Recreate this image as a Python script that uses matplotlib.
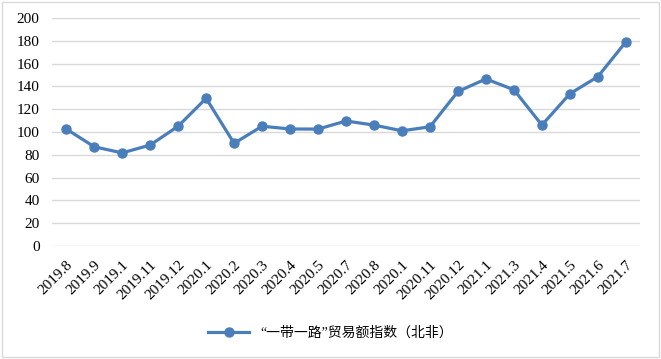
import matplotlib.pyplot as plt
from matplotlib.patches import Rectangle

months = ['2019.8', '2019.9', '2019.1', '2019.11', '2019.12', '2020.1', '2020.2',
          '2020.3', '2020.4', '2020.5', '2020.7', '2020.8', '2020.1', '2020.11',
          '2020.12', '2021.1', '2021.3', '2021.4', '2021.5', '2021.6', '2021.7']
index_values = [102.6, 87, 81.6, 88.5, 105, 129.5, 90, 105, 102.6, 102.5, 109.6,
                106, 101, 104.5, 135.5, 146.5, 137, 106, 133.5, 148.5, 179]
series_name = '“一带一路”贸易额指数（北非）'

plt.rcParams['font.family'] = ['Liberation Serif', 'Noto Sans CJK SC', 'DejaVu Sans']

fig = plt.figure(figsize=(6.61, 3.59), dpi=100)
ax = fig.add_axes([0.079, 0.315, 0.889, 0.635])

x = list(range(len(months)))
ax.plot(x, index_values, '-o', color='#4a7ebb', linewidth=2.3, markersize=6.5,
        label=series_name)

ax.set_xlim(-0.5, len(months) - 0.5)
ax.set_ylim(0, 200)
ax.set_yticks(range(0, 201, 20))
ax.set_xticks(x)
ax.set_xticklabels(months, rotation=45, ha='right', rotation_mode='anchor')
ax.tick_params(axis='both', length=0, labelsize=11)
ax.tick_params(axis='x', pad=9)
ax.tick_params(axis='y', pad=9)
ax.grid(axis='y', color='#d9d9d9', linewidth=1)
ax.set_axisbelow(True)
for s in ax.spines.values():
    s.set_visible(False)

fig.legend(loc='center', bbox_to_anchor=(0.5, 0.072), frameon=False,
           fontsize=10, handlelength=3)

fig.patches.append(Rectangle((0.003, 0.006), 0.994, 0.988, transform=fig.transFigure,
                             fill=False, edgecolor='#d9d9d9', linewidth=1))

fig.savefig('out.png', dpi=100)
